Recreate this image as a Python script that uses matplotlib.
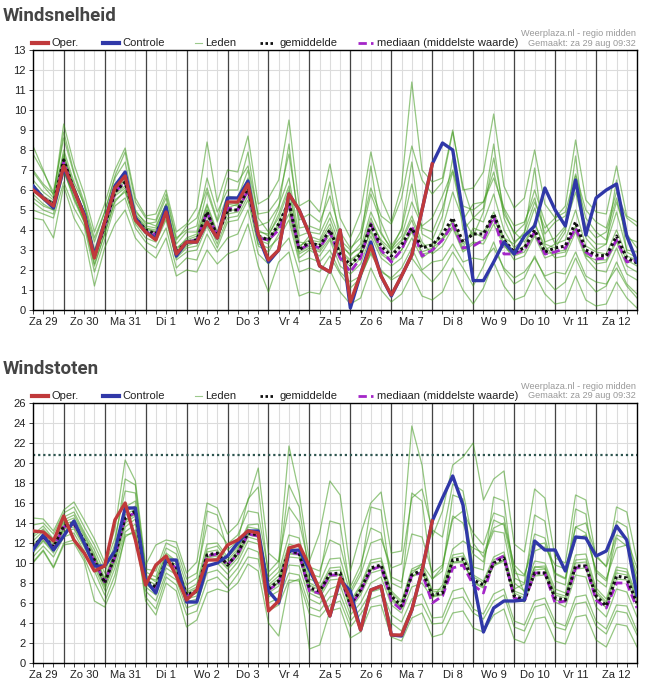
import matplotlib
matplotlib.use("Agg")
import matplotlib.pyplot as plt
from matplotlib.lines import Line2D
import numpy as np

# tijdstappen van 6 uur, vanaf za 29 06:00 t/m zo 13 00:00
uren = np.arange(6, 361, 6)
dag_labels = ["Za 29", "Zo 30", "Ma 31", "Di 1", "Wo 2", "Do 3", "Vr 4", "Za 5",
              "Zo 6", "Ma 7", "Di 8", "Wo 9", "Do 10", "Vr 11", "Za 12"]

# ---- windsnelheid (Bft) ----
oper_snelheid = [6.0, 5.6, 5.2, 7.2, 6.0, 4.7, 2.6, 4.4, 6.1, 6.7, 4.5, 3.9, 3.5, 4.9, 2.8, 3.4, 3.4, 4.4, 3.6, 5.4,
                 5.4, 6.3, 3.8, 2.5, 3.0, 5.8, 5.0, 3.8, 2.2, 1.9, 4.0, 0.4, 1.8, 3.2, 1.7, 0.75, 1.7, 2.75, 5.0, 7.3]
controle_snelheid = [6.2, 5.6, 5.1, 7.1, 6.0, 4.8, 2.7, 4.4, 6.2, 6.9, 4.6, 3.9, 3.6, 5.15, 2.7, 3.4, 3.4, 4.4, 3.6, 5.6,
                     5.6, 6.45, 3.7, 2.4, 3.0, 5.8, 5.0, 3.8, 2.2, 1.9, 4.0, 0.1, 1.8, 3.4, 1.7, 0.7, 1.7, 2.75, 5.0, 7.3,
                     8.35, 8.0, 4.8, 1.47, 1.47, 2.4, 3.4, 2.8, 3.7, 4.2, 6.1, 5.0, 4.2, 6.5, 3.75, 5.6, 6.0, 6.3, 3.7, 2.4]
gem_snelheid = [6.2, 5.6, 5.3, 7.5, 6.0, 4.8, 2.7, 4.2, 5.9, 6.4, 4.6, 4.0, 3.8, 4.9, 2.9, 3.4, 3.5, 4.9, 3.7, 5.0,
                5.0, 6.1, 3.7, 3.5, 4.3, 5.4, 3.0, 3.4, 3.2, 4.0, 2.8, 2.25, 2.8, 4.25, 3.2, 2.7, 3.25, 4.1, 3.1, 3.25,
                3.8, 4.6, 3.4, 3.8, 3.8, 4.8, 3.5, 2.9, 3.1, 4.0, 2.9, 3.1, 3.2, 4.4, 3.0, 2.75, 2.7, 3.7, 2.6, 2.35]
med_snelheid = [6.1, 5.6, 5.3, 7.4, 6.0, 4.8, 2.7, 4.2, 5.9, 6.4, 4.6, 3.9, 3.8, 4.9, 2.9, 3.4, 3.5, 4.9, 3.7, 5.1,
                5.0, 6.0, 3.6, 3.5, 4.0, 5.3, 3.0, 3.3, 3.1, 3.9, 2.6, 1.9, 2.6, 4.3, 3.0, 2.4, 3.0, 4.2, 2.7, 3.0,
                3.5, 4.3, 3.1, 3.2, 3.5, 4.7, 2.8, 2.8, 3.0, 3.9, 2.8, 2.9, 3.1, 4.1, 2.9, 2.55, 2.6, 3.5, 2.4, 2.5]
leden_snelheid = [
    [7.8, 6.9, 5.9, 8.6, 6.8, 5.2, 3.4, 4.9, 6.6, 7.4, 5.0, 4.3, 4.4, 5.6, 3.5, 4.2, 4.6, 6.1, 4.5, 6.6, 6.4, 7.2, 4.8, 4.9, 5.6, 7.8, 4.5, 4.8, 4.4, 5.7, 3.9, 3.1, 3.6, 5.8, 4.4, 3.2, 4.0, 6.3, 4.1, 3.9, 5.1, 6.9, 4.6, 3.7, 4.9, 7.6, 5.0, 3.8, 4.3, 6.0, 4.4, 3.3, 4.1, 6.7, 4.6, 3.9, 3.5, 5.4, 3.8, 3.1],
    [5.0, 4.8, 4.6, 6.4, 5.1, 4.2, 1.9, 3.5, 5.2, 5.6, 4.1, 3.4, 3.1, 4.1, 2.1, 2.6, 2.5, 3.8, 2.9, 3.6, 3.8, 5.0, 2.8, 2.3, 3.0, 3.6, 1.9, 2.1, 1.9, 2.7, 1.8, 1.1, 1.6, 2.9, 2.0, 1.5, 1.8, 2.6, 1.9, 1.4, 2.0, 2.9, 2.1, 1.2, 2.2, 3.4, 2.0, 1.3, 1.6, 2.7, 1.6, 1.0, 1.4, 2.6, 1.5, 0.9, 1.2, 2.4, 1.3, 0.8],
    [6.5, 5.9, 5.5, 8.0, 6.4, 5.3, 3.0, 4.6, 6.3, 6.8, 4.9, 4.4, 4.2, 5.3, 3.3, 3.9, 3.9, 5.9, 4.4, 5.7, 5.6, 7.0, 4.2, 4.4, 5.2, 6.6, 3.7, 3.9, 3.8, 4.9, 3.5, 3.0, 3.9, 6.1, 4.7, 4.3, 5.6, 8.2, 6.5, 5.8, 6.4, 8.9, 6.2, 4.6, 4.4, 5.8, 4.0, 3.1, 3.6, 5.1, 3.4, 3.6, 4.2, 5.9, 3.8, 3.3, 3.3, 4.9, 3.0, 2.9],
    [5.6, 5.2, 5.0, 7.0, 5.5, 4.4, 2.3, 3.8, 5.4, 6.0, 4.3, 3.6, 3.4, 4.5, 2.5, 2.9, 3.0, 4.2, 3.1, 4.4, 4.5, 5.5, 3.2, 2.9, 3.8, 4.8, 2.6, 3.0, 2.7, 3.5, 2.2, 1.8, 2.3, 3.7, 2.6, 2.2, 2.6, 3.6, 2.6, 3.0, 4.1, 5.9, 4.5, 5.3, 5.4, 6.6, 5.1, 4.2, 4.4, 5.6, 3.8, 4.4, 4.7, 6.2, 4.2, 3.6, 3.9, 5.6, 3.6, 3.4],
    [6.0, 5.5, 5.1, 7.6, 6.1, 4.7, 2.5, 4.0, 5.8, 6.2, 4.7, 4.1, 4.0, 5.1, 3.0, 3.6, 3.8, 5.3, 3.9, 5.3, 5.2, 6.4, 3.9, 3.8, 4.6, 6.0, 3.2, 3.5, 3.4, 4.3, 3.0, 2.5, 2.9, 4.6, 3.4, 2.8, 3.4, 4.5, 3.2, 3.3, 3.6, 4.4, 3.1, 4.1, 3.9, 4.7, 3.3, 2.5, 2.7, 3.7, 2.6, 2.8, 2.9, 4.2, 2.8, 2.3, 2.4, 3.4, 2.2, 1.9],
    [5.4, 5.0, 4.8, 6.9, 5.7, 4.4, 2.2, 3.8, 5.5, 5.9, 4.4, 3.8, 3.6, 4.6, 2.6, 3.1, 3.2, 4.5, 3.3, 4.6, 4.7, 5.7, 3.3, 3.1, 3.6, 4.5, 2.4, 2.6, 2.4, 3.0, 1.9, 1.4, 1.7, 2.8, 1.9, 1.6, 2.1, 3.1, 2.0, 2.4, 2.5, 3.3, 2.4, 2.6, 2.5, 3.1, 2.1, 1.6, 1.9, 2.6, 1.7, 1.9, 1.8, 2.9, 1.7, 1.4, 1.3, 2.1, 1.2, 0.6],
    [6.9, 6.2, 5.6, 8.9, 6.9, 5.4, 3.6, 4.9, 6.7, 7.9, 5.4, 4.6, 4.5, 5.8, 3.6, 4.0, 4.2, 6.6, 4.9, 6.0, 6.0, 7.9, 4.6, 3.9, 5.1, 8.3, 4.1, 4.2, 4.0, 6.4, 3.4, 2.7, 3.3, 7.2, 3.9, 3.0, 4.1, 7.4, 3.8, 3.5, 4.7, 7.6, 4.0, 4.6, 5.1, 8.3, 4.6, 3.4, 3.8, 7.1, 3.3, 3.1, 3.9, 7.7, 3.6, 3.0, 3.3, 6.5, 2.9, 2.6],
    [6.3, 5.7, 5.4, 7.3, 5.9, 4.6, 2.8, 4.4, 6.0, 6.5, 4.5, 3.9, 3.7, 4.8, 2.8, 3.3, 3.5, 4.7, 3.6, 4.8, 4.9, 5.9, 3.6, 3.6, 4.2, 5.2, 2.9, 3.2, 3.0, 3.8, 2.6, 2.0, 2.6, 4.0, 2.9, 2.5, 3.0, 4.0, 2.9, 3.1, 3.5, 4.2, 3.0, 3.4, 3.3, 4.3, 3.2, 2.7, 2.9, 3.8, 2.8, 2.9, 3.0, 4.1, 2.7, 2.5, 2.5, 3.5, 2.5, 2.2],
    [5.8, 5.3, 5.0, 7.1, 5.6, 4.5, 2.6, 4.1, 5.7, 6.1, 4.6, 4.0, 3.9, 5.0, 2.7, 3.2, 3.4, 5.0, 3.5, 5.1, 5.3, 6.2, 3.5, 3.3, 4.4, 5.5, 3.1, 3.7, 3.5, 4.6, 3.2, 2.8, 3.1, 4.9, 3.8, 3.1, 3.7, 5.4, 4.2, 4.6, 5.7, 7.0, 5.2, 5.0, 5.4, 6.9, 4.8, 3.9, 3.4, 4.3, 3.2, 2.6, 2.7, 3.9, 2.6, 2.0, 1.9, 3.1, 1.8, 1.5],
    [7.0, 6.3, 5.8, 7.8, 6.2, 4.9, 2.9, 4.3, 6.1, 6.6, 4.8, 4.2, 4.1, 5.3, 3.1, 3.5, 3.7, 5.2, 3.8, 5.4, 5.3, 6.6, 4.0, 3.7, 4.8, 6.2, 3.4, 3.3, 3.3, 4.1, 2.9, 2.4, 2.9, 4.4, 3.5, 3.0, 3.5, 4.7, 3.4, 2.8, 3.2, 4.1, 2.9, 3.3, 3.5, 4.5, 3.6, 2.9, 3.2, 4.4, 3.0, 3.3, 3.5, 5.0, 3.2, 2.9, 2.8, 4.0, 2.7, 2.5],
    [6.1, 5.6, 5.3, 7.7, 6.2, 4.9, 2.7, 4.1, 5.9, 6.4, 4.7, 4.1, 3.9, 4.8, 2.9, 3.4, 3.6, 5.0, 3.8, 5.0, 5.0, 6.0, 3.8, 3.4, 4.1, 5.1, 2.8, 3.1, 2.9, 3.6, 2.5, 2.2, 2.7, 3.9, 2.8, 2.4, 3.0, 3.9, 2.8, 2.9, 3.5, 4.5, 3.3, 3.9, 3.6, 4.9, 3.6, 3.3, 3.9, 5.4, 4.1, 4.6, 4.9, 6.8, 5.0, 4.4, 4.1, 5.9, 4.6, 4.2],
    [8.2, 7.0, 5.7, 9.3, 7.3, 5.8, 3.9, 5.3, 7.0, 8.1, 5.6, 4.7, 4.8, 6.0, 3.9, 4.3, 5.1, 8.4, 5.4, 7.0, 6.9, 8.7, 5.3, 5.6, 6.5, 9.5, 5.2, 5.5, 4.9, 7.3, 4.6, 3.6, 4.9, 7.9, 5.6, 4.4, 6.2, 11.4, 7.0, 6.4, 6.6, 9.0, 6.0, 6.1, 6.9, 9.8, 6.2, 5.1, 5.6, 8.0, 5.3, 4.6, 5.2, 8.5, 5.5, 4.9, 4.8, 7.2, 4.7, 4.4],
    [4.6, 4.5, 3.6, 6.2, 4.6, 3.7, 1.2, 3.1, 4.3, 5.0, 3.6, 3.0, 2.6, 3.6, 1.7, 2.0, 1.9, 3.0, 2.3, 2.8, 3.0, 4.3, 2.2, 0.9, 2.4, 2.9, 0.7, 0.9, 0.8, 2.0, 0.9, 0.3, 0.6, 2.1, 1.0, 0.4, 0.8, 1.8, 0.7, 0.5, 0.9, 2.1, 1.0, 0.3, 1.1, 2.4, 1.2, 0.5, 0.7, 1.8, 0.8, 0.3, 0.4, 1.7, 0.5, 0.2, 0.3, 1.4, 0.6, 0.1],
]

# ---- windstoten (m/s) ----
oper_stoten = [13.2, 13.1, 12.2, 14.7, 12.3, 11.0, 9.2, 9.7, 14.3, 16.0, 12.3, 7.8, 9.8, 10.7, 8.7, 6.3, 7.3, 10.3, 10.3, 11.8,
               12.3, 13.2, 13.0, 5.2, 6.2, 11.5, 11.8, 9.7, 7.3, 4.7, 8.5, 6.5, 3.3, 7.3, 7.7, 2.8, 2.8, 5.3, 9.2, 14.2]
controle_stoten = [11.3, 12.8, 11.3, 12.7, 14.2, 12.0, 9.7, 9.7, 11.2, 15.5, 15.5, 8.3, 7.0, 10.3, 10.3, 6.1, 6.1, 9.7, 10.0, 10.7,
                   12.0, 13.2, 13.2, 7.2, 6.0, 11.2, 11.3, 9.3, 7.3, 4.7, 8.3, 7.2, 3.3, 7.3, 7.7, 2.8, 2.7, 5.3, 9.2, 14.2,
                   16.5, 18.7, 15.8, 8.3, 3.1, 5.5, 6.2, 6.2, 6.3, 12.2, 11.3, 11.3, 9.2, 12.6, 12.5, 10.7, 11.2, 13.7, 12.3, 6.8]
gem_stoten = [11.6, 12.7, 11.6, 13.7, 14.0, 12.2, 10.3, 8.0, 10.7, 14.5, 15.2, 8.2, 7.6, 10.3, 9.6, 6.8, 7.2, 10.8, 11.0, 9.8,
              11.0, 13.0, 12.8, 7.4, 8.2, 11.2, 11.0, 7.5, 7.2, 8.9, 9.0, 5.8, 7.3, 9.5, 9.8, 6.7, 5.7, 8.8, 9.3, 6.8,
              7.0, 10.3, 10.4, 8.3, 7.8, 10.0, 10.5, 6.7, 6.3, 9.0, 9.0, 6.5, 6.3, 9.7, 9.7, 6.7, 5.7, 8.7, 8.5, 6.0]
med_stoten = [11.5, 12.6, 11.5, 13.6, 13.9, 12.1, 10.2, 8.1, 10.6, 14.6, 15.0, 8.1, 7.5, 10.2, 9.5, 6.7, 7.1, 10.7, 10.9, 9.8,
              10.9, 12.9, 12.7, 7.3, 8.0, 11.1, 10.9, 7.2, 7.0, 8.8, 8.8, 5.7, 7.2, 9.3, 9.7, 6.2, 5.3, 8.8, 9.0, 6.0,
              6.7, 9.5, 9.8, 7.8, 7.0, 10.2, 10.7, 6.5, 6.2, 9.0, 9.0, 6.0, 6.2, 9.5, 9.7, 6.3, 5.5, 8.0, 8.0, 5.5]
leden_stoten = [
    [13.8, 14.0, 12.9, 15.0, 15.6, 13.6, 11.8, 9.6, 12.5, 17.2, 17.0, 9.4, 9.2, 12.0, 11.5, 8.4, 9.0, 13.8, 13.3, 11.9, 12.8, 15.2, 15.0, 9.1, 10.2, 15.6, 14.1, 9.6, 9.2, 12.3, 11.8, 7.6, 9.8, 13.5, 13.0, 8.6, 8.1, 12.9, 12.6, 9.0, 9.8, 14.7, 14.0, 10.9, 10.1, 14.3, 13.8, 9.0, 8.7, 12.9, 12.5, 8.9, 8.4, 13.6, 13.0, 9.1, 8.2, 12.5, 11.7, 8.3],
    [10.1, 11.3, 9.6, 12.0, 12.3, 10.5, 8.1, 6.1, 8.8, 12.6, 13.3, 6.6, 5.4, 8.6, 7.8, 4.8, 5.2, 8.2, 8.6, 7.5, 8.9, 10.6, 10.4, 5.2, 5.8, 8.3, 8.2, 4.9, 4.6, 5.8, 6.2, 3.6, 4.9, 6.4, 6.8, 4.0, 3.2, 5.6, 5.9, 3.9, 4.0, 6.4, 6.6, 5.0, 4.4, 6.2, 6.8, 3.6, 3.2, 5.6, 5.9, 3.6, 3.3, 5.9, 6.1, 3.7, 2.9, 5.2, 5.0, 2.8],
    [12.2, 13.2, 12.0, 14.3, 14.8, 12.9, 10.9, 8.5, 11.3, 15.6, 16.2, 8.8, 8.1, 11.0, 10.2, 7.3, 7.9, 11.9, 12.0, 10.6, 11.6, 13.8, 13.9, 8.1, 9.1, 12.8, 12.5, 8.4, 8.0, 10.4, 10.5, 6.9, 8.8, 12.0, 12.4, 9.5, 9.9, 16.5, 17.4, 13.3, 12.6, 17.9, 17.2, 12.0, 10.6, 13.2, 13.0, 8.0, 7.2, 10.2, 10.0, 7.4, 7.0, 10.8, 10.9, 7.5, 6.4, 9.6, 9.4, 6.7],
    [11.0, 12.2, 11.0, 13.2, 13.4, 11.6, 9.6, 7.3, 10.0, 13.6, 14.4, 7.6, 6.8, 9.5, 8.8, 6.1, 6.4, 9.7, 10.0, 8.9, 10.1, 12.2, 11.9, 6.6, 7.2, 9.8, 9.7, 6.4, 5.9, 7.4, 7.8, 4.8, 6.0, 8.0, 8.6, 5.8, 5.0, 7.6, 8.0, 6.5, 7.8, 11.4, 12.2, 11.5, 11.0, 13.5, 14.0, 9.8, 8.8, 11.8, 12.0, 9.0, 8.5, 12.4, 12.8, 9.3, 8.4, 11.5, 11.8, 8.9],
    [11.8, 12.9, 11.8, 13.9, 14.2, 12.4, 10.5, 8.2, 10.9, 14.8, 15.4, 8.4, 7.8, 10.5, 9.8, 7.0, 7.4, 11.1, 11.3, 10.0, 11.2, 13.3, 13.1, 7.6, 8.4, 11.5, 11.3, 7.8, 7.3, 9.2, 9.3, 6.0, 7.6, 10.0, 10.2, 7.0, 6.0, 9.2, 9.6, 7.1, 7.2, 10.5, 10.7, 8.6, 8.0, 10.3, 10.8, 7.0, 6.5, 9.3, 9.4, 6.8, 6.5, 10.0, 10.1, 7.0, 5.9, 9.0, 8.8, 6.2],
    [10.6, 11.7, 10.6, 12.6, 13.0, 11.2, 9.2, 6.8, 9.5, 13.1, 13.9, 7.2, 6.2, 9.0, 8.3, 5.5, 5.9, 9.0, 9.3, 8.3, 9.5, 11.5, 11.1, 6.0, 6.5, 9.0, 8.8, 5.6, 5.2, 6.6, 6.9, 4.2, 5.4, 7.1, 7.4, 4.8, 4.1, 6.4, 6.9, 4.5, 4.6, 7.2, 7.5, 5.4, 4.9, 6.9, 7.4, 4.2, 3.8, 6.2, 6.5, 4.1, 3.7, 6.6, 6.8, 4.2, 3.4, 5.8, 5.7, 3.2],
    [12.8, 13.7, 12.4, 14.6, 15.1, 13.1, 11.3, 9.0, 11.9, 18.4, 17.8, 9.1, 8.6, 11.5, 10.9, 7.8, 8.5, 15.2, 14.8, 11.3, 12.2, 16.4, 17.6, 8.6, 9.6, 17.8, 15.6, 8.9, 8.6, 14.2, 13.9, 7.2, 9.2, 15.6, 15.3, 8.0, 7.5, 17.0, 16.2, 8.4, 9.2, 16.8, 16.4, 9.6, 9.3, 16.6, 16.2, 8.5, 8.0, 14.8, 14.2, 8.2, 7.8, 15.4, 14.9, 8.4, 7.6, 14.2, 13.6, 7.8],
    [11.4, 12.5, 11.4, 13.5, 13.8, 12.0, 10.1, 7.8, 10.5, 14.2, 14.9, 8.0, 7.4, 10.1, 9.4, 6.6, 7.0, 10.5, 10.7, 9.6, 10.8, 12.8, 12.6, 7.2, 8.0, 10.9, 10.8, 7.3, 6.8, 8.6, 8.8, 5.6, 7.1, 9.3, 9.6, 6.5, 5.5, 8.6, 9.1, 6.6, 6.8, 10.0, 10.1, 8.0, 7.5, 9.7, 10.2, 6.5, 6.1, 8.7, 8.8, 6.3, 6.1, 9.4, 9.5, 6.5, 5.5, 8.4, 8.3, 5.8],
    [11.2, 12.3, 11.2, 13.4, 13.6, 11.8, 9.9, 7.6, 10.3, 14.0, 14.7, 7.9, 7.1, 9.9, 9.2, 6.4, 6.7, 10.2, 10.5, 9.4, 10.5, 12.6, 12.3, 7.0, 7.7, 10.6, 10.5, 7.0, 6.5, 8.3, 8.4, 5.4, 6.8, 9.0, 9.3, 6.3, 5.4, 8.9, 9.9, 8.4, 9.6, 14.4, 15.2, 13.0, 11.8, 15.0, 14.6, 9.6, 7.0, 9.6, 9.5, 6.1, 5.6, 8.8, 8.6, 5.6, 4.6, 7.4, 7.1, 4.6],
    [12.6, 13.4, 12.3, 14.1, 14.5, 12.7, 10.7, 8.3, 11.1, 15.1, 15.7, 8.6, 8.3, 10.8, 10.1, 7.1, 7.6, 11.4, 11.7, 10.3, 11.4, 13.6, 13.4, 7.8, 8.7, 11.9, 11.6, 8.0, 7.5, 9.5, 9.6, 6.2, 7.8, 10.3, 10.5, 7.2, 6.2, 9.4, 9.9, 7.3, 7.4, 10.8, 11.0, 8.8, 8.2, 10.6, 11.1, 7.2, 6.8, 9.6, 9.7, 7.0, 6.7, 10.3, 10.4, 7.2, 6.1, 9.3, 9.1, 6.4],
    [11.6, 12.6, 11.5, 13.6, 13.9, 12.1, 10.2, 7.9, 10.6, 14.3, 15.0, 8.1, 7.5, 10.2, 9.5, 6.7, 7.1, 10.6, 10.9, 9.7, 10.9, 12.9, 12.7, 7.3, 8.1, 11.0, 10.9, 7.4, 6.9, 8.7, 8.9, 5.7, 7.2, 9.4, 9.7, 6.6, 5.6, 8.7, 9.2, 6.7, 6.9, 10.1, 10.2, 8.1, 7.6, 9.8, 10.3, 7.4, 7.9, 11.2, 11.6, 9.8, 9.4, 13.6, 14.0, 10.8, 9.6, 12.8, 12.4, 9.5],
    [14.5, 14.4, 13.2, 15.3, 16.1, 14.3, 12.4, 10.1, 13.4, 20.3, 18.2, 9.8, 11.8, 12.3, 12.1, 9.0, 10.1, 16.0, 15.5, 12.9, 13.9, 16.2, 19.5, 11.0, 10.1, 21.7, 17.0, 10.2, 13.0, 18.2, 16.8, 9.2, 12.9, 16.0, 17.1, 11.0, 11.2, 23.7, 19.8, 12.6, 15.2, 19.8, 20.6, 22.0, 16.3, 18.4, 19.2, 11.9, 11.1, 17.4, 16.5, 10.5, 10.0, 16.8, 16.3, 10.6, 9.7, 15.6, 15.1, 10.2],
    [10.0, 11.2, 9.5, 11.8, 12.0, 10.2, 6.2, 5.6, 8.0, 12.8, 13.0, 6.2, 4.8, 8.0, 7.2, 3.6, 4.3, 7.0, 7.4, 7.1, 8.0, 9.9, 9.2, 4.0, 2.7, 8.0, 8.4, 1.4, 1.8, 5.2, 5.5, 2.5, 3.1, 5.6, 5.8, 2.6, 2.2, 4.5, 5.0, 2.6, 2.9, 5.0, 5.2, 3.5, 3.1, 4.8, 5.4, 2.4, 2.0, 4.4, 4.6, 2.2, 1.9, 4.6, 4.8, 2.3, 1.6, 3.9, 3.7, 1.6]
]
drempel_stoten = 20.8

ROOD = "#c0393b"
BLAUW = "#3038a8"
GROEN = "#3f9a1c"
PAARS = "#a426c8"
W, H = 649, 682
LETTER = "Liberation Sans"


def fx(x):
    return x / W


def fy(y):
    return 1 - y / H


def teken_paneel(fig, top, titel, ymax, ystap, leden, mediaan, gem, controle, oper, drempel=None):
    ax = fig.add_axes([fx(33), fy(top + 260), fx(604), 260 / H])
    ax.set_axisbelow(True)
    ax.set_xlim(uren[0], uren[-1])
    ax.set_ylim(0, ymax)
    ax.set_yticks(np.arange(0, ymax + 0.1, ystap))
    ax.set_xticks(np.arange(12, 360, 24))
    ax.set_xticklabels(dag_labels)
    ax.set_xticks(uren, minor=True)
    ax.grid(True, which="both", color="#dcdcdc", lw=0.8)
    ax.tick_params(which="both", length=3, width=0.7, color="#444444", labelsize=8, pad=2)
    for lab in ax.get_xticklabels() + ax.get_yticklabels():
        lab.set_fontfamily(LETTER)
        lab.set_color("#222222")
    for sp in ax.spines.values():
        sp.set_color("black")
        sp.set_linewidth(1.0)
    for d in range(24, 360, 24):
        ax.axvline(d, color="#444444", lw=0.9, zorder=1.8)
    if drempel is not None:
        ax.axhline(drempel, color="#2f5650", lw=1.6, ls=(0, (1, 1.3)), zorder=2)
    for lid in leden:
        ax.plot(uren, lid, color=GROEN, lw=0.9, alpha=0.55, zorder=2)
    ax.plot(uren, mediaan, color=PAARS, lw=2.0, ls=(0, (3, 1.5)), zorder=3)
    ax.plot(uren, gem, color="#111111", lw=2.2, ls=(0, (0.9, 0.9)), zorder=4)
    ax.plot(uren, controle, color=BLAUW, lw=2.4, zorder=5)
    ax.plot(uren[:len(oper)], oper, color=ROOD, lw=2.4, zorder=6)

    # titel en legenda
    fig.text(fx(3), fy(top - 34), titel, fontsize=13.5, fontweight="bold",
             color="#444444", family="Roboto", va="center")
    ly = top - 7
    items = [(32, 48, 51, dict(color=ROOD, lw=3), "Oper."),
             (103, 119, 122, dict(color=BLAUW, lw=3), "Controle"),
             (195, 202, 205, dict(color="#9cc98c", lw=0.8), "Leden"),
             (260, 273, 279, dict(color="#111111", lw=2, ls=(0, (0.9, 0.9))), "gemiddelde"),
             (358, 373, 377, dict(color=PAARS, lw=2, ls=(0, (3, 1.5))), "mediaan (middelste waarde)")]
    for x0, x1, xt, stijl, tekst in items:
        fig.add_artist(Line2D([fx(x0), fx(x1)], [fy(ly), fy(ly)], transform=fig.transFigure, **stijl))
        fig.text(fx(xt), fy(ly), tekst, fontsize=8.0, family=LETTER, color="#222222", va="center")
    fig.text(fx(636), fy(top - 17), "Weerplaza.nl - regio midden", fontsize=6.6,
             family=LETTER, color="#999999", ha="right", va="center")
    fig.text(fx(636), fy(top - 7), "Gemaakt: za 29 aug 09:32", fontsize=6.6,
             family=LETTER, color="#999999", ha="right", va="center")
    return ax


fig = plt.figure(figsize=(W / 100, H / 100), dpi=100)
fig.patch.set_facecolor("white")
teken_paneel(fig, 50, "Windsnelheid", 13, 1, leden_snelheid, med_snelheid, gem_snelheid,
             controle_snelheid, oper_snelheid)
teken_paneel(fig, 403, "Windstoten", 26, 2, leden_stoten, med_stoten, gem_stoten,
             controle_stoten, oper_stoten, drempel=drempel_stoten)
fig.savefig("out.png", dpi=100)
